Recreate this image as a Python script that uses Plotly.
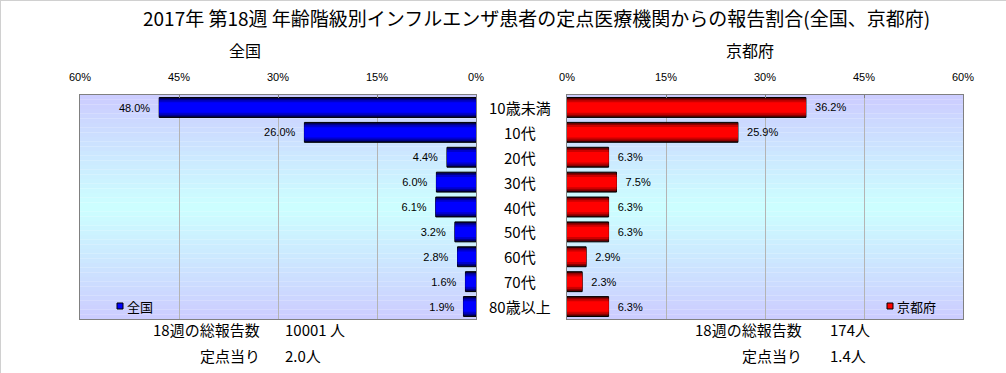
import plotly.graph_objects as go

# ---- data ----
categories = ["10歳未満", "10代", "20代", "30代", "40代", "50代", "60代", "70代", "80歳以上"]
national = [48.0, 26.0, 4.4, 6.0, 6.1, 3.2, 2.8, 1.6, 1.9]
kyoto = [36.2, 25.9, 6.3, 7.5, 6.3, 6.3, 2.9, 2.3, 6.3]
tick_vals = [0, 15, 30, 45, 60]
tick_text = ["0%", "15%", "30%", "45%", "60%"]
title_text = "2017年 第18週 年齢階級別インフルエンザ患者の定点医療機関からの報告割合(全国、京都府)"
national_name = "全国"
kyoto_name = "京都府"
total_label = "18週の総報告数"
per_label = "定点当り"
national_total = "10001 人"
national_per = "2.0人"
kyoto_total = "174人"
kyoto_per = "1.4人"

W, H = 1006, 373
FONT = "Noto Sans CJK JP"
NB = "\u00a0"


def px(x):
    return x / W


def py(y):
    return 1 - y / H


fig = go.Figure()

blue_layers = [(0.8, "#000048"), (0.7, "#00008c"), (0.58, "#0000cc"), (0.42, "#0000ff")]
red_layers = [(0.8, "#480000"), (0.7, "#8c0000"), (0.58, "#cc0000"), (0.42, "#ff0000")]

for i, (w, c) in enumerate(blue_layers):
    fig.add_trace(go.Bar(
        y=categories, x=national, orientation="h", width=w,
        marker=dict(color=c, line=dict(color="black", width=1 if i == 0 else 0)),
        text=[f"{v:.1f}%{NB}{NB}" for v in national] if i == 0 else None,
        textposition="outside" if i == 0 else "none",
        textfont=dict(family="Arial", size=11, color="black"),
        cliponaxis=False, showlegend=False, name=national_name,
        xaxis="x", yaxis="y",
    ))

for i, (w, c) in enumerate(red_layers):
    fig.add_trace(go.Bar(
        y=categories, x=kyoto, orientation="h", width=w,
        marker=dict(color=c, line=dict(color="black", width=1 if i == 0 else 0)),
        text=[f"{NB}{NB}{v:.1f}%" for v in kyoto] if i == 0 else None,
        textposition="outside" if i == 0 else "none",
        textfont=dict(family="Arial", size=11, color="black"),
        cliponaxis=False, showlegend=False, name=kyoto_name,
        xaxis="x2", yaxis="y2",
    ))

ydom = [py(319), py(95)]
xcommon = dict(
    tickvals=tick_vals, ticktext=tick_text, side="top",
    showgrid=True, gridcolor="#b4b4b4", gridwidth=1,
    showline=True, linecolor="#808080", linewidth=1, mirror=True,
    ticks="inside", ticklen=3, tickcolor="#808080",
    tickfont=dict(family="Arial", size=11, color="black"),
    ticklabelstandoff=9, zeroline=False, fixedrange=True, automargin=False,
)
ycommon = dict(
    type="category", categoryorder="array", categoryarray=categories,
    autorange="reversed", showticklabels=False, showgrid=False,
    showline=True, linecolor="#808080", linewidth=1, mirror=True,
    zeroline=False, ticks="", fixedrange=True, automargin=False,
)

fig.update_layout(
    width=W, height=H,
    margin=dict(l=0, r=0, t=0, b=0, autoexpand=False),
    paper_bgcolor="white", plot_bgcolor="rgba(0,0,0,0)",
    barmode="overlay", bargap=0.2,
    font=dict(family=FONT, color="black"),
    xaxis=dict(domain=[px(80), px(476)], range=[60, 0], anchor="y", **xcommon),
    yaxis=dict(domain=ydom, anchor="x", **ycommon),
    xaxis2=dict(domain=[px(567), px(963)], range=[0, 60], anchor="y2", **xcommon),
    yaxis2=dict(domain=ydom, anchor="x2", **ycommon),
    showlegend=False,
)

# gradient backgrounds
shapes = []
N = 48
for xr, yr in (("x domain", "y domain"), ("x2 domain", "y2 domain")):
    for k in range(N):
        t = (k + 0.5) / N
        g = int(round(204 + 51 * (1 - abs(2 * t - 1))))
        shapes.append(dict(
            type="rect", xref=xr, yref=yr, x0=0, x1=1,
            y0=1 - k / N, y1=1 - (k + 1) / N,
            fillcolor=f"rgb(204,{g},255)", line=dict(width=0), layer="below",
        ))

# legend-like markers
shapes.append(dict(type="rect", xref="paper", yref="paper",
                   x0=px(117), x1=px(123), y0=py(309), y1=py(303),
                   fillcolor="#0000ff", line=dict(color="black", width=1)))
shapes.append(dict(type="rect", xref="paper", yref="paper",
                   x0=px(887), x1=px(893), y0=py(309), y1=py(303),
                   fillcolor="#ff0000", line=dict(color="black", width=1)))
# outer frame (top and left)
shapes.append(dict(type="line", xref="paper", yref="paper", x0=0, x1=1, y0=py(0.5), y1=py(0.5),
                   line=dict(color="#d0d0d0", width=1)))
shapes.append(dict(type="line", xref="paper", yref="paper", x0=px(0.5), x1=px(0.5), y0=0, y1=1,
                   line=dict(color="#d0d0d0", width=1)))
fig.update_layout(shapes=shapes)

ann = []
ann.append(dict(text=title_text, x=px(536), y=py(17), xref="paper", yref="paper",
                showarrow=False, xanchor="center", yanchor="middle",
                font=dict(family=FONT, size=19, color="black")))
ann.append(dict(text=national_name, x=px(245), y=py(50), xref="paper", yref="paper",
                showarrow=False, xanchor="center", yanchor="middle",
                font=dict(family=FONT, size=16, color="black")))
ann.append(dict(text=kyoto_name, x=px(750), y=py(50), xref="paper", yref="paper",
                showarrow=False, xanchor="center", yanchor="middle",
                font=dict(family=FONT, size=16, color="black")))
for c in categories:
    ann.append(dict(text=c, x=px(520), y=c, xref="paper", yref="y",
                    showarrow=False, xanchor="center", yanchor="middle",
                    font=dict(family=FONT, size=15, color="black")))
ann.append(dict(text=national_name, x=px(125), y=py(306), xref="paper", yref="paper",
                showarrow=False, xanchor="left", yanchor="middle",
                font=dict(family=FONT, size=13, color="black")))
ann.append(dict(text=kyoto_name, x=px(895), y=py(306), xref="paper", yref="paper",
                showarrow=False, xanchor="left", yanchor="middle",
                font=dict(family=FONT, size=13, color="black")))

for lab_x, val_x, tot, per in ((262, 283, national_total, national_per),
                               (804, 828, kyoto_total, kyoto_per)):
    for yy, lab, val in ((329, total_label, tot), (355, per_label, per)):
        ann.append(dict(text=lab, x=px(lab_x), y=py(yy), xref="paper", yref="paper",
                        showarrow=False, xanchor="right", yanchor="middle",
                        font=dict(family=FONT, size=15, color="black")))
        ann.append(dict(text=val, x=px(val_x), y=py(yy), xref="paper", yref="paper",
                        showarrow=False, xanchor="left", yanchor="middle",
                        font=dict(family=FONT, size=15, color="black")))
fig.update_layout(annotations=ann)

fig.write_html(
    "out.html",
    config={"displayModeBar": False},
    post_script="document.body.style.margin='0';document.body.style.overflow='hidden';",
)
